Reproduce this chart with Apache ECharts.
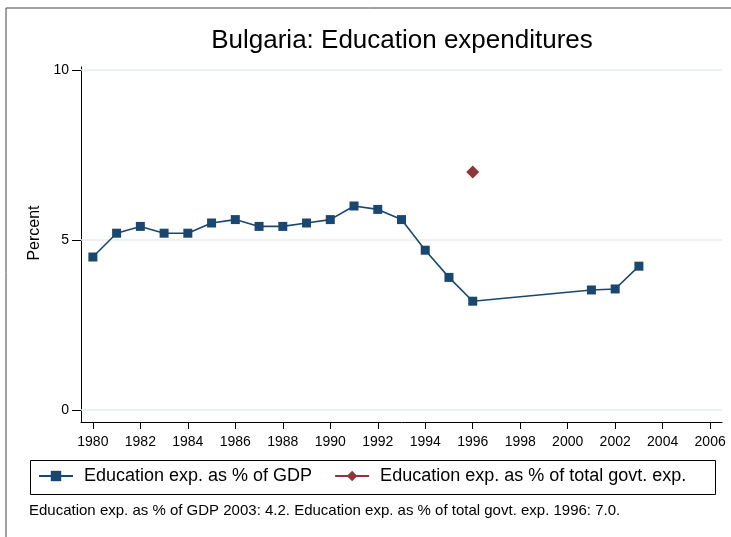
<!DOCTYPE html>
<html>
<head>
<meta charset="utf-8">
<script src="https://cdn.jsdelivr.net/npm/echarts@6/dist/echarts.min.js"></script>
<style>
  html, body { margin: 0; padding: 0; background: #fff; }
  #chart { width: 731px; height: 537px; }
</style>
</head>
<body>
<div id="chart"></div>
<script>
// data
var years = [1980, 1981, 1982, 1983, 1984, 1985, 1986, 1987, 1988, 1989, 1990, 1991, 1992, 1993, 1994, 1995, 1996, 2001, 2002, 2003];
var gdpShare = [4.5, 5.2, 5.4, 5.2, 5.2, 5.5, 5.6, 5.4, 5.4, 5.5, 5.6, 6.0, 5.9, 5.6, 4.7, 3.9, 3.2, 3.53, 3.56, 4.23];
var govtYears = [1996];
var govtShare = [7.0];
var xTicks = [1980, 1982, 1984, 1986, 1988, 1990, 1992, 1994, 1996, 1998, 2000, 2002, 2004, 2006];
var yTicks = [0, 5, 10];

var seriesNames = ['Education exp. as % of GDP', 'Education exp. as % of total govt. exp.'];
var note = 'Education exp. as % of GDP 2003: 4.2. Education exp. as % of total govt. exp. 1996: 7.0.';

var font = '"Liberation Sans", Arial, sans-serif';

function pairs(xs, ys) {
    var out = [];
    for (var i = 0; i < xs.length; i++) {
        out.push([xs[i], ys[i]]);
    }
    return out;
}

var gridLines = [];
for (var k = 0; k < yTicks.length; k++) {
    gridLines.push({ yAxis: yTicks[k] });
}

var option = {
    animation: false,
    backgroundColor: '#fff',
    textStyle: { fontFamily: font },
    title: {
        text: 'Bulgaria: Education expenditures',
        left: 397,
        textAlign: 'center',
        top: 23,
        textStyle: { fontFamily: font, fontSize: 26, fontWeight: 'normal', color: '#000' }
    },
    grid: { left: 81, right: 9, top: 67, bottom: 115 },
    xAxis: {
        type: 'value',
        min: 1979.5,
        max: 2006.5,
        axisLine: { show: true, onZero: false, lineStyle: { color: '#000', width: 1 } },
        axisTick: { show: true, length: 7, customValues: xTicks, lineStyle: { color: '#000' } },
        axisLabel: {
            customValues: xTicks, margin: 13, fontSize: 14, color: '#000', fontFamily: font,
            formatter: function (v) { return String(v); }
        },
        splitLine: { show: false }
    },
    yAxis: {
        type: 'value',
        min: -12 / 34,
        max: 10 + 3 / 34,
        axisLine: { show: true, onZero: false, lineStyle: { color: '#000', width: 1 } },
        axisTick: { show: true, length: 9, customValues: yTicks, lineStyle: { color: '#000' } },
        axisLabel: { customValues: yTicks, margin: 12, fontSize: 14, color: '#000', fontFamily: font },
        splitLine: { show: false }
    },
    legend: {
        left: 38,
        top: 467,
        itemWidth: 34,
        itemHeight: 13,
        itemGap: 22,
        padding: 0,
        textStyle: { fontSize: 18, color: '#000', fontFamily: font, padding: [0, 0, 0, 6] },
        data: seriesNames
    },
    graphic: [
        { type: 'line', shape: { x1: 6, y1: 8, x2: 731, y2: 8 }, style: { stroke: '#444', lineWidth: 1 } },
        { type: 'line', shape: { x1: 6, y1: 8, x2: 6, y2: 537 }, style: { stroke: '#444', lineWidth: 1 } },
        { type: 'rect', shape: { x: 30.5, y: 460.5, width: 685, height: 34 }, style: { fill: 'none', stroke: '#000', lineWidth: 1 } },
        { type: 'text', left: 29, top: 503, style: { text: note, fontSize: 15, fill: '#000', fontFamily: font } },
        {
            type: 'text', x: 35, y: 233, rotation: Math.PI / 2,
            style: { text: 'Percent', fontSize: 16, fill: '#000', fontFamily: font, align: 'center', verticalAlign: 'middle' }
        }
    ],
    series: [
        {
            name: seriesNames[0],
            type: 'line',
            data: pairs(years, gdpShare),
            symbol: 'rect',
            symbolSize: 9,
            itemStyle: { color: '#1a476f' },
            lineStyle: { color: '#1a476f', width: 1.6 },
            z: 3,
            markLine: {
                silent: true,
                symbol: 'none',
                label: { show: false },
                lineStyle: { color: '#e4edf0', type: 'solid', width: 1.5 },
                data: gridLines,
                z: 1
            }
        },
        {
            name: seriesNames[1],
            type: 'line',
            data: pairs(govtYears, govtShare),
            symbol: 'diamond',
            symbolSize: 13,
            itemStyle: { color: '#90353b' },
            lineStyle: { color: '#90353b', width: 1.6 },
            z: 3
        }
    ]
};

echarts.init(document.getElementById('chart')).setOption(option);
</script>
</body>
</html>
